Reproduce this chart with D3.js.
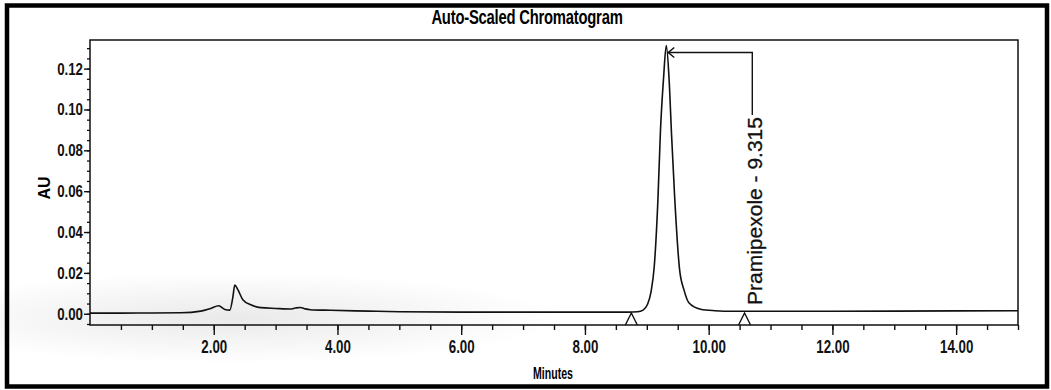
<!DOCTYPE html>
<html>
<head>
<meta charset="utf-8">
<script src="https://cdn.jsdelivr.net/npm/d3@7"></script>
<style>
  body { margin: 0; background: #fff; }
  svg { display: block; }
  .narrow { font-family: "Liberation Sans", Arial, sans-serif; font-weight: bold; }
</style>
</head>
<body>
<div id="chart"></div>
<script>
// chromatogram trace (minutes, AU)
var traceTime = [0.0, 0.5, 1.0, 1.47, 1.79, 1.95, 2.08, 2.18, 2.26, 2.31, 2.34, 2.39, 2.47, 2.60, 2.76, 3.00, 3.24, 3.32, 3.40, 3.48, 3.56, 3.89, 4.50, 5.00, 6.00, 7.00, 8.00, 8.70,
                 8.85, 8.94, 9.01, 9.07, 9.12, 9.18, 9.22, 9.27, 9.315, 9.36, 9.40, 9.45, 9.53, 9.60, 9.68, 9.87, 10.10, 10.40, 11.0, 12.0, 13.0, 14.0, 15.0];
var traceAU = [0.0003, 0.0003, 0.0004, 0.0005, 0.0013, 0.0026, 0.0039, 0.0021, 0.0018, 0.0083, 0.0140, 0.0118, 0.0069, 0.0044, 0.0030, 0.0026, 0.0023, 0.0028, 0.0031, 0.0024, 0.0020, 0.0017, 0.0013, 0.0010, 0.0008, 0.0008, 0.0008, 0.0008,
               0.0010, 0.0018, 0.0045, 0.0110, 0.0230, 0.0560, 0.0890, 0.1150, 0.1313, 0.1150, 0.0877, 0.0573, 0.0216, 0.0118, 0.0054, 0.0022, 0.0015, 0.0012, 0.0012, 0.0012, 0.0013, 0.0014, 0.0015];

var xTicks = [2, 4, 6, 8, 10, 12, 14];
var yTicks = [0, 0.02, 0.04, 0.06, 0.08, 0.10, 0.12];
var xDomain = [0, 15];
var yDomain = [-0.0055, 0.134];

var peakName = "Pramipexole";
var peakRT = 9.315;
var peakAU = 0.1313;
var integrationMarks = [8.75, 10.58];

var width = 1051, height = 390;
var plotL = 90, plotR = 1018, plotT = 40, plotB = 325;

var svg = d3.select('#chart').append('svg')
            .attr('width', width)
            .attr('height', height);

var x = d3.scaleLinear().domain(xDomain).range([plotL, plotR]);
var y = d3.scaleLinear().domain(yDomain).range([plotB, plotT]);

// squeeze a bold label into the narrow width the printout uses
function squeeze(sel, ratio) {
    sel.each(function() {
        var w = this.getComputedTextLength();
        d3.select(this).attr('textLength', w * ratio).attr('lengthAdjust', 'spacingAndGlyphs');
    });
}

// faint grey smudge of the scan, lower left
var defs = svg.append('defs');
var grad = defs.append('radialGradient').attr('id', 'smudge');
grad.append('stop').attr('offset', '0%').attr('stop-color', '#d8d8d8').attr('stop-opacity', 0.55);
grad.append('stop').attr('offset', '100%').attr('stop-color', '#d8d8d8').attr('stop-opacity', 0);
svg.append('ellipse')
   .attr('cx', 230).attr('cy', 318)
   .attr('rx', 330).attr('ry', 45)
   .attr('fill', 'url(#smudge)');

// outer black frame of the printout
svg.append('rect')
   .attr('x', 7).attr('y', 5.5)
   .attr('width', 1040).attr('height', 381)
   .attr('fill', 'none')
   .attr('stroke', '#000')
   .attr('stroke-width', 4.5);

// title
svg.append('text')
   .attr('class', 'narrow')
   .attr('x', 527).attr('y', 24)
   .attr('text-anchor', 'middle')
   .style('font-size', '20px')
   .style('letter-spacing', '-0.3px')
   .text('Auto-Scaled Chromatogram')
   .call(squeeze, 0.74);

// plot box
svg.append('rect')
   .attr('x', plotL).attr('y', plotT)
   .attr('width', plotR - plotL).attr('height', plotB - plotT)
   .attr('fill', 'none')
   .attr('stroke', '#111')
   .attr('stroke-width', 1.5);

// x axis
var xMinor = d3.range(0.5, 15.01, 0.5);
svg.append('g')
   .attr('transform', 'translate(0,' + plotB + ')')
   .call(d3.axisBottom(x).tickValues(xMinor).tickSize(5).tickFormat(''))
   .call(g => g.select('.domain').remove())
   .call(g => g.selectAll('line').attr('stroke', '#111').attr('stroke-width', 1.4));

svg.append('g')
   .attr('transform', 'translate(0,' + plotB + ')')
   .call(d3.axisBottom(x).tickValues(xTicks).tickSize(10).tickPadding(5).tickFormat(d3.format('.2f')))
   .call(g => g.select('.domain').remove())
   .call(g => g.selectAll('line').attr('stroke', '#111').attr('stroke-width', 1.4))
   .call(g => g.selectAll('text')
               .attr('class', 'narrow')
               .attr('fill', '#111')
               .style('font-size', '19px')
               .call(squeeze, 0.7));

// y axis
var yMinor = d3.range(-0.005, 0.1326, 0.005);
svg.append('g')
   .attr('transform', 'translate(' + plotL + ',0)')
   .call(d3.axisLeft(y).tickValues(yMinor).tickSize(3).tickFormat(''))
   .call(g => g.select('.domain').remove())
   .call(g => g.selectAll('line').attr('stroke', '#111').attr('stroke-width', 1.3));

svg.append('g')
   .attr('transform', 'translate(' + plotL + ',0)')
   .call(d3.axisLeft(y).tickValues(yTicks).tickSize(6).tickPadding(1).tickFormat(d3.format('.2f')))
   .call(g => g.select('.domain').remove())
   .call(g => g.selectAll('line').attr('stroke', '#111').attr('stroke-width', 1.4))
   .call(g => g.selectAll('text')
               .attr('class', 'narrow')
               .attr('fill', '#111')
               .style('font-size', '17px')
               .call(squeeze, 0.78));

// axis titles
svg.append('text')
   .attr('class', 'narrow')
   .attr('x', 553).attr('y', 379)
   .attr('text-anchor', 'middle')
   .style('font-size', '17px')
   .text('Minutes')
   .call(squeeze, 0.62);

svg.append('text')
   .attr('transform', 'translate(50,188) rotate(-90)')
   .attr('text-anchor', 'middle')
   .style('font-family', '"Liberation Sans", Arial, sans-serif')
   .style('font-size', '16px')
   .style('font-weight', 'bold')
   .text('AU');

// trace
var points = traceTime.map(function(t, i) { return [t, traceAU[i]]; });
var line = d3.line()
             .x(d => x(d[0]))
             .y(d => y(d[1]))
             .curve(d3.curveMonotoneX);

svg.append('path')
   .attr('d', line(points))
   .attr('fill', 'none')
   .attr('stroke', '#111')
   .attr('stroke-width', 1.6);

// peak start / end markers
svg.selectAll('.mark')
   .data(integrationMarks)
   .enter().append('path')
   .attr('class', 'mark')
   .attr('d', function(t) {
       var cx = x(t);
       return 'M' + (cx - 6) + ',' + plotB + 'L' + cx + ',' + (plotB - 12) + 'L' + (cx + 6) + ',' + plotB;
   })
   .attr('fill', 'none')
   .attr('stroke', '#111')
   .attr('stroke-width', 1.4);

// peak label with leader and arrow
var px = x(peakRT);
var arrowY = y(peakAU) + 7;
var labelX = px + 86;
var labelBottom = 305;

var label = svg.append('text')
   .attr('transform', 'translate(' + (labelX + 10) + ',' + labelBottom + ') rotate(-90)')
   .style('font-family', '"Liberation Sans", Arial, sans-serif')
   .style('font-size', '21px')
   .attr('fill', '#111')
   .attr('stroke', '#111')
   .attr('stroke-width', 0.3)
   .text(peakName + ' - ' + peakRT.toFixed(3));

var labelLen = label.node().getComputedTextLength();

svg.append('path')
   .attr('d', 'M' + labelX + ',' + (labelBottom - labelLen - 2) + 'V' + arrowY + 'H' + (px + 2))
   .attr('fill', 'none')
   .attr('stroke', '#111')
   .attr('stroke-width', 1.4);

svg.append('path')
   .attr('d', 'M' + (px + 8) + ',' + (arrowY - 5) + 'L' + (px + 2) + ',' + arrowY + 'L' + (px + 8) + ',' + (arrowY + 5))
   .attr('fill', 'none')
   .attr('stroke', '#111')
   .attr('stroke-width', 1.5);
</script>
</body>
</html>
